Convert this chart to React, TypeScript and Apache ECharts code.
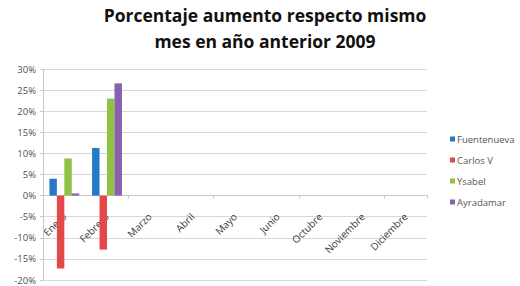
import React, { useEffect, useRef } from "react";
import * as echarts from "echarts";

const categories = ["Enero", "Febrero", "Marzo", "Abril", "Mayo", "Junio", "Octubre", "Noviembre", "Diciembre"];
const seriesNames = ["Fuentenueva", "Carlos V", "Ysabel", "Ayradamar"];
const fuentenueva = [4.0, 11.3, null, null, null, null, null, null, null];
const carlosV = [-17.3, -12.8, null, null, null, null, null, null, null];
const ysabel = [8.8, 23.0, null, null, null, null, null, null, null];
const ayradamar = [0.5, 26.6, null, null, null, null, null, null, null];
const colors = ["#2479c8", "#e5484a", "#8fc142", "#8a5fb0"];
const titleLines = ["Porcentaje aumento respecto mismo", "mes en año anterior 2009"];

export default function App() {
  const ref = useRef<HTMLDivElement>(null);
  useEffect(() => {
    if (!ref.current) return;
    const chart = echarts.init(ref.current, null, { renderer: "svg" });
    const data = [fuentenueva, carlosV, ysabel, ayradamar];
    chart.setOption({
      animation: false,
      backgroundColor: "#ffffff",
      title: {
        text: titleLines.join("\n"),
        left: 260,
        top: -3,
        textAlign: "center",
        textStyle: {
          fontFamily: "Open Sans",
          fontWeight: "bold",
          fontSize: 17.5,
          lineHeight: 26,
          color: "#111",
        },
      },
      legend: {
        orient: "vertical",
        left: 445,
        top: 127,
        itemWidth: 5,
        itemHeight: 5,
        itemGap: 7,
        icon: "rect",
        data: seriesNames,
        textStyle: { fontFamily: "Open Sans", fontSize: 9.5, lineHeight: 14, color: "#555", padding: [0, 0, 0, -3] },
      },
      grid: { left: 43, right: 93, top: 69, bottom: 6, containLabel: false },
      xAxis: {
        type: "category",
        data: categories,
        axisLine: { onZero: true, lineStyle: { color: "#c8c8c8" } },
        axisTick: { show: true, length: 3, lineStyle: { color: "#c8c8c8" } },
        axisLabel: { show: false },
      },
      yAxis: {
        type: "value",
        min: -20,
        max: 30,
        interval: 5,
        axisLine: { show: true, lineStyle: { color: "#c8c8c8" } },
        axisTick: { show: true, length: 3, lineStyle: { color: "#c8c8c8" } },
        splitLine: { lineStyle: { color: "#d8d8d8" } },
        axisLabel: {
          formatter: "{value}%",
          fontFamily: "Open Sans",
          fontSize: 9.5,
          color: "#505050",
          margin: 7,
        },
      },
      series: seriesNames.map((name, i) => ({
        name,
        type: "bar",
        data: data[i],
        barGap: "0%",
        barCategoryGap: "30%",
        itemStyle: { color: colors[i] },
      })),
    });
    const zeroY = chart.convertToPixel({ yAxisIndex: 0 }, 0) as number;
    chart.setOption({
      graphic: categories.map((c) => {
        const x = chart.convertToPixel({ xAxisIndex: 0 }, c) as number;
        return {
          type: "text",
          x: x,
          y: zeroY + 19,
          rotation: Math.PI / 4,
          originX: 0,
          originY: 0,
          style: {
            text: c,
            fontFamily: "Open Sans",
            fontSize: 10,
            fill: "#3a3a3a",
            align: "right",
            verticalAlign: "middle",
          },
        };
      }),
    });
    return () => chart.dispose();
  }, []);
  return <div ref={ref} style={{ position: "absolute", left: 0, top: 0, width: 520, height: 286 }} />;
}
